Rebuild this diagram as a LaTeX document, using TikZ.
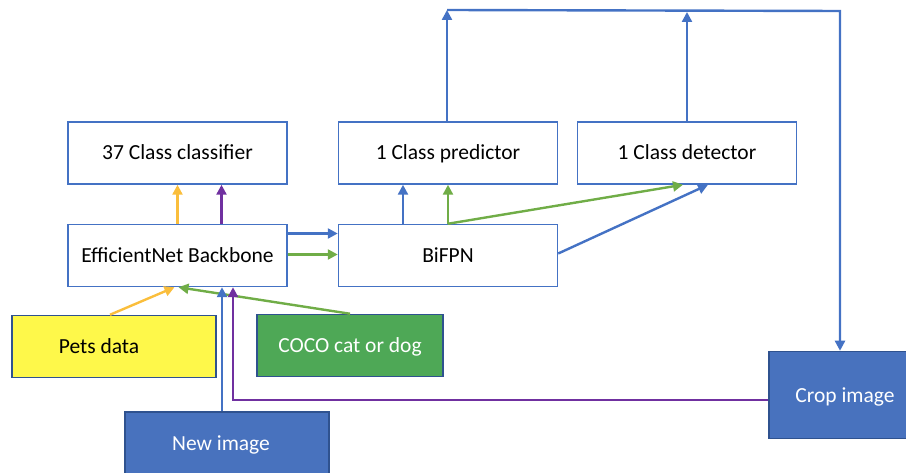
\documentclass[tikz,border=0pt]{standalone}
\usepackage{fontspec}
\setmainfont{Carlito}
\usetikzlibrary{arrows.meta,calc}
\definecolor{flowblue}{RGB}{68, 114, 196}
\definecolor{edgeblue}{RGB}{47, 82, 143}
\definecolor{flowgold}{RGB}{250, 190, 60}
\definecolor{flowgreen}{RGB}{112, 173, 71}
\definecolor{flowpurple}{RGB}{112, 48, 160}
\definecolor{petsfill}{RGB}{254, 248, 74}
\definecolor{cocofill}{RGB}{78, 168, 86}
\definecolor{cropfill}{RGB}{72, 114, 190}

\begin{document}
\begin{tikzpicture}[x=1bp,y=-1bp,
        stage/.style={draw=flowblue,line width=1.5bp,fill=white,minimum width=219bp,minimum height=62bp,inner sep=0pt,text height=16bp,text depth=2bp,font=\fontsize{21.5bp}{24bp}\selectfont},
        source/.style={draw=edgeblue,line width=1.5bp,minimum height=62bp,inner sep=0pt,text height=16bp,text depth=2bp,font=\fontsize{21.5bp}{24bp}\selectfont},
        flow/.style={line width=2.4bp,-{Triangle[length=10bp,width=10bp]}}]
        \useasboundingbox (0,0) rectangle (906,473);

        % Model stages
        \node[stage] (classifier) at (177.5,153) {37 Class classifier};
        \node[stage] (predictor) at (448,153) {1 Class predictor};
        \node[stage] (detector) at (687,153) {1 Class detector};
        \node[stage] (backbone) at (177.5,255.5) {EfficientNet Backbone};
        \node[stage] (bifpn) at (448,255.5) {BiFPN};

        % Inputs
        \node[source,fill=petsfill,minimum width=204bp] (pets) at (114,346.5) {\hspace*{-30bp}Pets data};
        \node[source,fill=cocofill,text=white,minimum width=186bp] (coco) at (350,345.5) {COCO cat or dog};
        \node[source,fill=cropfill,text=white,minimum width=204bp] (newimg) at (227,443) {\hspace*{-12bp}New image};
        \node[source,fill=cropfill,text=white,minimum width=152bp,minimum height=87bp] (crop) at (845,395) {Crop image};

        % Corners of the loop over the top
        \coordinate (topL) at (447,10);
        \coordinate (topR) at (840,11);

        % Backbone to heads
        \draw[flow,flowgold] (backbone.north) -- (classifier.south);
        \draw[flow,flowpurple] ([xshift=44bp]backbone.north) -- ([xshift=44bp]classifier.south);
        \draw[flow,flowblue] ([yshift=22bp]backbone.east) -- ([yshift=22bp]bifpn.west);
        \draw[flow,flowgreen] ([yshift=1bp]backbone.east) -- ([yshift=1bp]bifpn.west);

        % BiFPN to predictor and detector
        \draw[flow,flowblue] ([xshift=-45bp]bifpn.north) -- ([xshift=-45bp]predictor.south);
        \draw[flow,flowgreen] (bifpn.north) -- (predictor.south);
        \draw[flow,flowgreen] (bifpn.north) -- ([xshift=-4bp]detector.south);
        \draw[flow,flowblue] ([yshift=2bp]bifpn.east) -- ([xshift=21bp]detector.south);

        % Outputs go round to the crop
        \draw[flow,flowblue] ([xshift=-1bp]predictor.north) -- (topL);
        \draw[flow,flowblue] (detector.north) -- (detector.north |- 0,12);
        \draw[flow,flowblue] (topL) -- (topR) -- (topR |- crop.north);

        % Inputs into the backbone
        \draw[flow,flowgold] ([xshift=-4bp]pets.north) -- ([xshift=-3bp]backbone.south);
        \draw[flow,flowgreen] (coco.north) -- ([xshift=1bp]backbone.south);
        \draw[flow,flowblue] ([xshift=-5bp]newimg.north) -- ([xshift=-5bp]newimg.north |- backbone.south);
        \draw[flow,flowpurple] ([yshift=-5bp]crop.west) -| ([xshift=55.5bp]backbone.south);
    \end{tikzpicture}
\end{document}
